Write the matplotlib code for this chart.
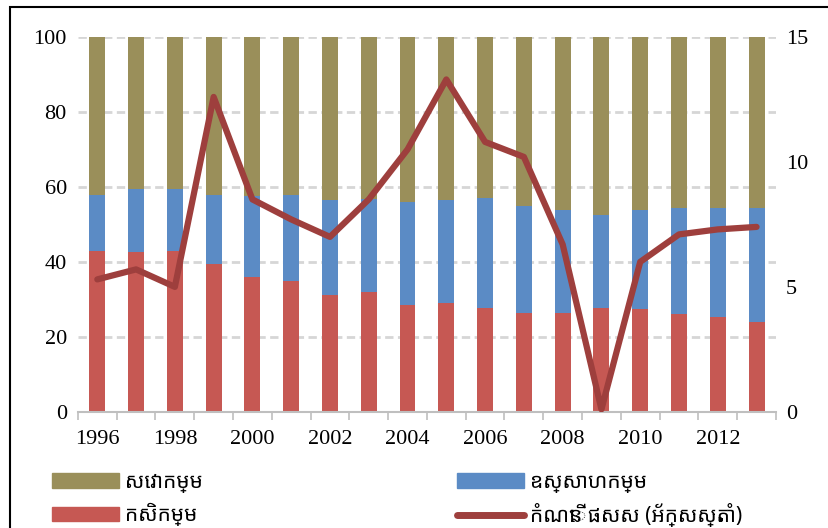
import numpy as np
import matplotlib.pyplot as plt
from matplotlib import font_manager
from matplotlib.patches import Patch, Rectangle
from matplotlib.lines import Line2D

years = list(range(1996, 2014))
agriculture = [43.0, 42.6, 43.0, 39.5, 36.1, 34.8, 31.2, 32.1, 28.5,
               29.0, 27.8, 26.3, 26.3, 27.8, 27.4, 26.0, 25.2, 24.0]
industry_top = [57.9, 59.5, 59.5, 57.9, 57.6, 57.9, 56.5, 56.8, 56.1,
                56.5, 57.0, 54.8, 53.9, 52.5, 53.9, 54.3, 54.3, 54.3]
gdp_growth = [5.3, 5.7, 5.0, 12.6, 8.5, 7.7, 7.0, 8.5, 10.5,
              13.3, 10.8, 10.2, 6.7, 0.1, 6.0, 7.1, 7.3, 7.4]
labels = ["សេវាកម្ម", "ឧស្សាហកម្ម", "កសិកម្ម", "កំណើន ផសស (អ័ក្សស្តាំ)"]

industry = [t - a for t, a in zip(industry_top, agriculture)]
services = [100 - t for t in industry_top]

c_serv = "#9A8F5A"
c_ind = "#5B8BC5"
c_agr = "#C65853"
c_line = "#9E3F3D"

plt.rcParams['font.family'] = ['Liberation Serif', 'DejaVu Serif']

# use a Khmer-capable family if the machine has one
installed = {f.name for f in font_manager.fontManager.ttflist}
khmer_fams = [f for f in ['Noto Sans Khmer', 'Noto Serif Khmer', 'Khmer OS',
                          'Khmer OS System', 'Leelawadee UI'] if f in installed]
legend_fams = khmer_fams + ['Noto Sans', 'DejaVu Sans']

fig = plt.figure(figsize=(8.29, 5.28), dpi=100)
ax = fig.add_axes([0.094, 0.22, 0.842, 0.71])

x = np.arange(len(years))
w = 0.41
ax.bar(x, agriculture, w, color=c_agr, zorder=2)
ax.bar(x, industry, w, bottom=agriculture, color=c_ind, zorder=2)
ax.bar(x, services, w, bottom=industry_top, color=c_serv, zorder=2)

ax.set_ylim(0, 100)
ax.set_xlim(-0.5, len(years) - 0.5)
ax.set_yticks([0, 20, 40, 60, 80, 100])
for v in [20, 40, 60, 80, 100]:
    ax.axhline(v, color="#D6D6D6", lw=2, ls=(0, (3, 1.6)), zorder=1)

ax.set_xticks(x[::2])
ax.set_xticklabels([str(y) for y in years[::2]])
ax.set_xticks(np.arange(-0.5, len(years), 1), minor=True)
ax.tick_params(axis='x', which='major', length=0, pad=13, labelsize=16)
ax.tick_params(axis='x', which='minor', length=6, width=1.2, color="#BFBFBF")
ax.tick_params(axis='y', length=0, pad=8, labelsize=16)
for s in ['top', 'right', 'left']:
    ax.spines[s].set_visible(False)
ax.spines['bottom'].set_color("#BFBFBF")
ax.spines['bottom'].set_linewidth(1.5)

ax2 = ax.twinx()
ax2.plot(x, gdp_growth, color=c_line, lw=4.5, solid_joinstyle='round',
         solid_capstyle='round', zorder=3)
ax2.set_ylim(0, 15)
ax2.set_yticks([0, 5, 10, 15])
ax2.tick_params(axis='y', length=0, pad=7, labelsize=16)
for s in ax2.spines.values():
    s.set_visible(False)

# outer frame (cut off at right and bottom like the reference)
fig.patches.append(Rectangle((0.012, -0.1), 1.1, 1.087, transform=fig.transFigure,
                             fill=False, ec="black", lw=1.5))

handles = [Patch(color=c_serv), Patch(color=c_agr), Patch(color=c_ind),
           Line2D([], [], color=c_line, lw=5, solid_capstyle='round')]
fig.legend(handles, [labels[0], labels[2], labels[1], labels[3]],
           loc='upper left', bbox_to_anchor=(0.04, 0.142), ncol=2,
           frameon=False, handlelength=3.2, handleheight=0.7, handletextpad=0.3,
           columnspacing=12.2, labelspacing=0.5,
           prop={'family': legend_fams, 'size': 15})

fig.savefig("out.png", dpi=100)
